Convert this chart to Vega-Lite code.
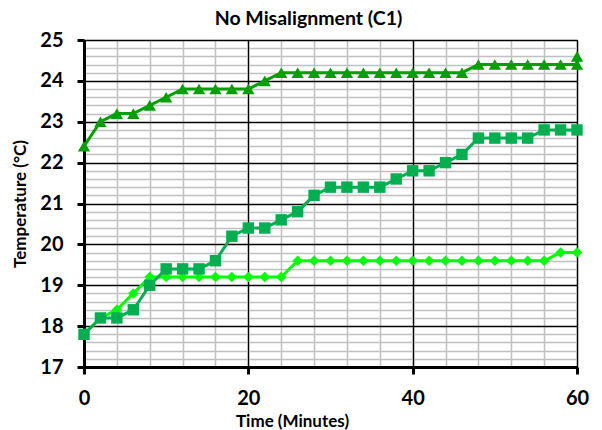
{
  "$schema": "https://vega.github.io/schema/vega-lite/v6.json",
  "autosize": "none",
  "width": 493,
  "height": 327,
  "padding": {"left": 84, "top": 40, "right": 25, "bottom": 63},
  "background": "white",
  "config": {
    "font": "Lato",
    "view": {"stroke": "black", "strokeWidth": 1}
  },
  "title": {
    "text": "No Misalignment (C1)",
    "fontSize": 19.5,
    "fontWeight": "bold",
    "font": "Lato",
    "color": "black",
    "offset": 1,
    "anchor": "middle",
    "dx": -22
  },
  "data": {
    "values": [
      {"t": 0, "s": "S1", "v": 17.8}, {"t": 2, "s": "S1", "v": 18.2}, {"t": 4, "s": "S1", "v": 18.4}, {"t": 6, "s": "S1", "v": 18.8},
      {"t": 8, "s": "S1", "v": 19.2}, {"t": 10, "s": "S1", "v": 19.2}, {"t": 12, "s": "S1", "v": 19.2}, {"t": 14, "s": "S1", "v": 19.2},
      {"t": 16, "s": "S1", "v": 19.2}, {"t": 18, "s": "S1", "v": 19.2}, {"t": 20, "s": "S1", "v": 19.2}, {"t": 22, "s": "S1", "v": 19.2},
      {"t": 24, "s": "S1", "v": 19.2}, {"t": 26, "s": "S1", "v": 19.6}, {"t": 28, "s": "S1", "v": 19.6}, {"t": 30, "s": "S1", "v": 19.6},
      {"t": 32, "s": "S1", "v": 19.6}, {"t": 34, "s": "S1", "v": 19.6}, {"t": 36, "s": "S1", "v": 19.6}, {"t": 38, "s": "S1", "v": 19.6},
      {"t": 40, "s": "S1", "v": 19.6}, {"t": 42, "s": "S1", "v": 19.6}, {"t": 44, "s": "S1", "v": 19.6}, {"t": 46, "s": "S1", "v": 19.6},
      {"t": 48, "s": "S1", "v": 19.6}, {"t": 50, "s": "S1", "v": 19.6}, {"t": 52, "s": "S1", "v": 19.6}, {"t": 54, "s": "S1", "v": 19.6},
      {"t": 56, "s": "S1", "v": 19.6}, {"t": 58, "s": "S1", "v": 19.8}, {"t": 60, "s": "S1", "v": 19.8},
      {"t": 0, "s": "S2", "v": 17.8}, {"t": 2, "s": "S2", "v": 18.2}, {"t": 4, "s": "S2", "v": 18.2}, {"t": 6, "s": "S2", "v": 18.4},
      {"t": 8, "s": "S2", "v": 19.0}, {"t": 10, "s": "S2", "v": 19.4}, {"t": 12, "s": "S2", "v": 19.4}, {"t": 14, "s": "S2", "v": 19.4},
      {"t": 16, "s": "S2", "v": 19.6}, {"t": 18, "s": "S2", "v": 20.2}, {"t": 20, "s": "S2", "v": 20.4}, {"t": 22, "s": "S2", "v": 20.4},
      {"t": 24, "s": "S2", "v": 20.6}, {"t": 26, "s": "S2", "v": 20.8}, {"t": 28, "s": "S2", "v": 21.2}, {"t": 30, "s": "S2", "v": 21.4},
      {"t": 32, "s": "S2", "v": 21.4}, {"t": 34, "s": "S2", "v": 21.4}, {"t": 36, "s": "S2", "v": 21.4}, {"t": 38, "s": "S2", "v": 21.6},
      {"t": 40, "s": "S2", "v": 21.8}, {"t": 42, "s": "S2", "v": 21.8}, {"t": 44, "s": "S2", "v": 22.0}, {"t": 46, "s": "S2", "v": 22.2},
      {"t": 48, "s": "S2", "v": 22.6}, {"t": 50, "s": "S2", "v": 22.6}, {"t": 52, "s": "S2", "v": 22.6}, {"t": 54, "s": "S2", "v": 22.6},
      {"t": 56, "s": "S2", "v": 22.8}, {"t": 58, "s": "S2", "v": 22.8}, {"t": 60, "s": "S2", "v": 22.8},
      {"t": 0, "s": "S3", "v": 22.4}, {"t": 2, "s": "S3", "v": 23.0}, {"t": 4, "s": "S3", "v": 23.2}, {"t": 6, "s": "S3", "v": 23.2},
      {"t": 8, "s": "S3", "v": 23.4}, {"t": 10, "s": "S3", "v": 23.6}, {"t": 12, "s": "S3", "v": 23.8}, {"t": 14, "s": "S3", "v": 23.8},
      {"t": 16, "s": "S3", "v": 23.8}, {"t": 18, "s": "S3", "v": 23.8}, {"t": 20, "s": "S3", "v": 23.8}, {"t": 22, "s": "S3", "v": 24.0},
      {"t": 24, "s": "S3", "v": 24.2}, {"t": 26, "s": "S3", "v": 24.2}, {"t": 28, "s": "S3", "v": 24.2}, {"t": 30, "s": "S3", "v": 24.2},
      {"t": 32, "s": "S3", "v": 24.2}, {"t": 34, "s": "S3", "v": 24.2}, {"t": 36, "s": "S3", "v": 24.2}, {"t": 38, "s": "S3", "v": 24.2},
      {"t": 40, "s": "S3", "v": 24.2}, {"t": 42, "s": "S3", "v": 24.2}, {"t": 44, "s": "S3", "v": 24.2}, {"t": 46, "s": "S3", "v": 24.2},
      {"t": 48, "s": "S3", "v": 24.4}, {"t": 50, "s": "S3", "v": 24.4}, {"t": 52, "s": "S3", "v": 24.4}, {"t": 54, "s": "S3", "v": 24.4},
      {"t": 56, "s": "S3", "v": 24.4}, {"t": 58, "s": "S3", "v": 24.4}, {"t": 60, "s": "S3", "v": 24.4}, {"t": 60.01, "s": "S3", "v": 24.6}
    ]
  },
  "encoding": {
    "x": {
      "field": "t",
      "type": "quantitative",
      "scale": {"domain": [0, 60], "nice": false, "zero": false},
      "axis": {
        "title": "Time (Minutes)",
        "titleFont": "Lato",
        "titleFontSize": 17,
        "titleFontWeight": "bold",
        "titleColor": "black",
        "titleX": 208,
        "titleY": 59,
        "titleAlign": "center",
        "titleBaseline": "alphabetic",
        "values": [0, 4, 8, 12, 16, 20, 24, 28, 32, 36, 40, 44, 48, 52, 56, 60],
        "labelExpr": "datum.value % 20 === 0 ? datum.label : ''",
        "labelFont": "Lato",
        "labelFontSize": 20,
        "labelFontWeight": "bold",
        "labelColor": "black",
        "labelPadding": 14,
        "labelFlush": false,
        "labelOverlap": false,
        "grid": true,
        "gridColor": {"condition": {"test": "datum.value % 20 === 0", "value": "black"}, "value": "#c0c0c0"},
        "gridWidth": 1.5,
        "domainColor": "black",
        "domainWidth": 3,
        "ticks": true,
        "tickColor": "black",
        "tickWidth": 3,
        "tickSize": 7,
        "tickOpacity": {"condition": {"test": "datum.value % 20 === 0", "value": 1}, "value": 0}
      }
    },
    "y": {
      "field": "v",
      "type": "quantitative",
      "scale": {"domain": [17, 25], "nice": false, "zero": false},
      "axis": {
        "title": "Temperature (°C)",
        "titleFont": "Lato",
        "titleFontSize": 17,
        "titleFontWeight": "bold",
        "titleColor": "black",
        "titlePadding": 10,
        "values": [17, 17.2, 17.4, 17.6, 17.8, 18, 18.2, 18.4, 18.6, 18.8, 19, 19.2, 19.4, 19.6, 19.8, 20, 20.2, 20.4, 20.6, 20.8, 21, 21.2, 21.4, 21.6, 21.8, 22, 22.2, 22.4, 22.6, 22.8, 23, 23.2, 23.4, 23.6, 23.8, 24, 24.2, 24.4, 24.6, 24.8, 25],
        "labelExpr": "abs(datum.value - round(datum.value)) < 0.001 ? format(datum.value, 'd') : ''",
        "labelFont": "Lato",
        "labelFontSize": 20,
        "labelFontWeight": "bold",
        "labelColor": "black",
        "labelPadding": 14,
        "labelFlush": false,
        "labelOverlap": false,
        "grid": true,
        "gridColor": {"condition": {"test": "abs(datum.value - round(datum.value)) < 0.001", "value": "black"}, "value": "#c0c0c0"},
        "gridDash": {"condition": {"test": "abs(datum.value - round(datum.value)) < 0.001", "value": []}, "value": [162.333, 2]},
        "gridDashOffset": {"condition": {"test": "abs(datum.value - round(datum.value)) < 0.001", "value": 0}, "value": 163.333},
        "gridWidth": 1.5,
        "domainColor": "black",
        "domainWidth": 3,
        "ticks": true,
        "tickColor": "black",
        "tickWidth": 3,
        "tickSize": 7,
        "tickOpacity": {"condition": {"test": "abs(datum.value - round(datum.value)) < 0.001", "value": 1}, "value": 0}
      }
    },
    "color": {
      "field": "s",
      "type": "nominal",
      "scale": {"domain": ["S1", "S2", "S3"], "range": ["#00ff00", "#00b050", "#00a000"]},
      "legend": null
    }
  },
  "layer": [
    {
      "mark": {"type": "line", "strokeWidth": 3, "clip": false}
    },
    {
      "mark": {"type": "point", "filled": true, "opacity": 1, "clip": false},
      "encoding": {
        "shape": {
          "field": "s",
          "type": "nominal",
          "scale": {"domain": ["S1", "S2", "S3"], "range": ["diamond", "square", "triangle-up"]},
          "legend": null
        },
        "size": {
          "field": "s",
          "type": "nominal",
          "scale": {"domain": ["S1", "S2", "S3"], "range": [110, 150, 160]},
          "legend": null
        }
      }
    }
  ]
}
